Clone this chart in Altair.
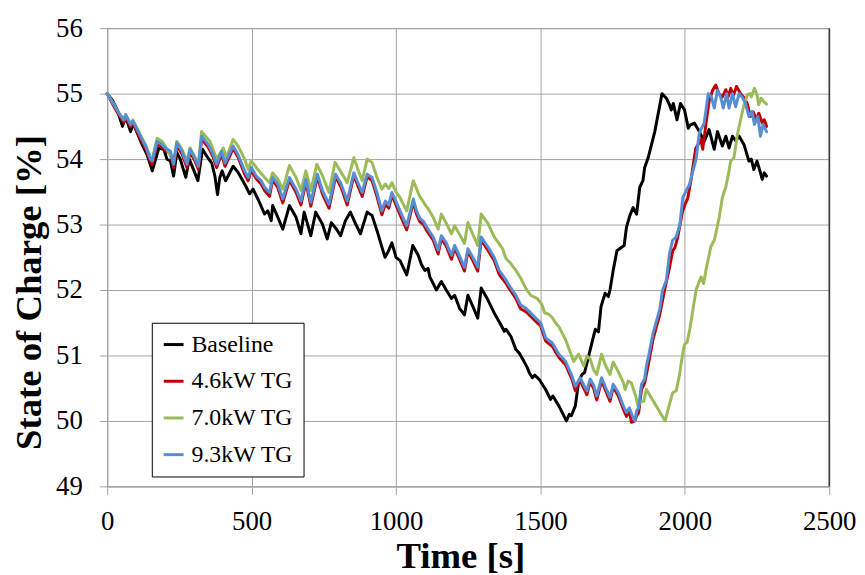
import altair as alt
import pandas as pd

series_names = ["Baseline", "4.6kW TG", "7.0kW TG", "9.3kW TG"]
series_colors = ["#000000", "#c00000", "#9bbb59", "#558ed5"]
x_ticks = [0, 500, 1000, 1500, 2000, 2500]
y_ticks = [49, 50, 51, 52, 53, 54, 55, 56]

base_t = [0, 18, 35, 53, 64, 81, 90, 121, 138, 156,
          179, 196, 207, 219, 230, 241, 253, 272, 284, 299,
          314, 330, 344, 362, 373, 382, 390, 398, 410, 436,
          453, 482, 493, 505, 522, 545, 556, 568, 573, 591,
          608, 631, 654, 671, 682, 705, 722, 745, 762, 776,
          797, 808, 825, 842, 860, 877, 900, 917, 934, 951,
          962, 972, 986, 1000, 1014, 1037, 1043, 1058, 1077, 1089,
          1100, 1111, 1117, 1140, 1157, 1174, 1192, 1203, 1220, 1237,
          1249, 1266, 1283, 1295, 1318, 1340, 1363, 1375, 1381, 1398,
          1415, 1426, 1443, 1455, 1461, 1472, 1480, 1495, 1518, 1535,
          1543, 1564, 1590, 1600, 1607, 1621, 1632, 1644, 1653, 1667,
          1678, 1690, 1701, 1710, 1724, 1735, 1741, 1752, 1765, 1780,
          1790, 1798, 1810, 1821, 1833, 1844, 1855, 1861, 1873, 1896,
          1921, 1936, 1947, 1953, 1960, 1973, 1985, 1999, 2012, 2018,
          2033, 2050, 2067, 2084, 2102, 2113, 2130, 2142, 2153, 2165,
          2176, 2188, 2205, 2222, 2230, 2239, 2250, 2262, 2268, 2275,
          2283]
base_soc = [55.00, 54.90, 54.75, 54.50, 54.65, 54.42, 54.55, 54.22, 54.07, 53.82,
            54.17, 54.15, 54.00, 53.97, 53.74, 54.10, 54.00, 53.72, 54.00, 53.84,
            53.67, 54.15, 54.05, 53.94, 53.74, 53.46, 53.72, 53.82, 53.67, 53.89,
            53.80, 53.57, 53.47, 53.54, 53.39, 53.16, 53.21, 53.06, 53.29, 53.11,
            52.93, 53.29, 53.11, 52.86, 53.19, 52.83, 53.19, 53.01, 52.78, 53.03,
            52.91, 52.83, 53.06, 53.19, 53.01, 52.86, 53.19, 53.14, 52.91, 52.66,
            52.50, 52.58, 52.72, 52.50, 52.45, 52.23, 52.35, 52.68, 52.53, 52.38,
            52.30, 52.33, 52.20, 52.00, 52.13, 52.00, 51.87, 51.92, 51.72, 51.62,
            51.92, 51.75, 51.57, 52.03, 51.85, 51.65, 51.47, 51.37, 51.40, 51.29,
            51.09, 51.04, 50.91, 50.81, 50.74, 50.66, 50.70, 50.64, 50.48, 50.33,
            50.38, 50.23, 50.00, 50.10, 50.08, 50.23, 50.59, 50.71, 50.74, 50.99,
            51.19, 51.40, 51.36, 51.75, 51.95, 51.90, 52.00, 52.30, 52.60, 52.65,
            52.68, 52.96, 53.14, 53.26, 53.16, 53.57, 53.67, 53.87, 54.02, 54.42,
            55.00, 54.93, 54.83, 54.75, 54.85, 54.60, 54.85, 54.75, 54.47, 54.52,
            54.55, 54.42, 54.27, 54.45, 54.15, 54.42, 54.20, 54.35, 54.17, 54.35,
            54.28, 54.35, 54.22, 53.97, 54.00, 53.84, 53.97, 53.79, 53.69, 53.79,
            53.74]

red_t = [0, 24, 41, 58, 64, 81, 89, 121, 133, 150,
         156, 173, 190, 201, 219, 230, 241, 259, 276, 287,
         305, 316, 327, 350, 367, 379, 396, 408, 436, 453,
         476, 488, 499, 516, 533, 545, 562, 573, 590, 608,
         631, 654, 671, 688, 705, 728, 745, 768, 791, 810,
         831, 854, 870, 883, 900, 917, 934, 951, 963, 975,
         986, 1000, 1014, 1037, 1060, 1071, 1083, 1095, 1106, 1129,
         1146, 1157, 1174, 1192, 1203, 1220, 1237, 1249, 1266, 1283,
         1295, 1318, 1340, 1357, 1369, 1381, 1395, 1415, 1432, 1450,
         1466, 1484, 1501, 1518, 1541, 1564, 1587, 1609, 1621, 1638,
         1650, 1661, 1672, 1684, 1695, 1712, 1725, 1741, 1752, 1770,
         1787, 1798, 1808, 1815, 1827, 1833, 1840, 1850, 1861, 1870,
         1890, 1913, 1930, 1945, 1958, 1966, 1975, 1992, 2000, 2010,
         2022, 2038, 2050, 2056, 2062, 2075, 2084, 2096, 2107, 2118,
         2130, 2142, 2150, 2159, 2168, 2179, 2193, 2203, 2216, 2227,
         2237, 2248, 2256, 2268, 2275, 2283]
red_soc = [55.00, 54.80, 54.67, 54.56, 54.65, 54.49, 54.55, 54.26, 54.16, 53.95,
           53.92, 54.24, 54.18, 54.13, 54.08, 53.87, 54.21, 54.08, 53.87, 54.11,
           53.96, 53.84, 54.31, 54.18, 54.03, 53.87, 54.08, 53.89, 54.16, 54.03,
           53.77, 53.67, 53.83, 53.70, 53.62, 53.52, 53.43, 53.68, 53.57, 53.33,
           53.68, 53.49, 53.30, 53.65, 53.28, 53.73, 53.47, 53.25, 53.73, 53.57,
           53.30, 53.75, 53.57, 53.43, 53.73, 53.67, 53.43, 53.15, 53.31, 53.25,
           53.45, 53.30, 53.15, 52.92, 53.35, 53.16, 53.04, 53.00, 52.91, 52.76,
           52.55, 52.79, 52.67, 52.47, 52.64, 52.47, 52.29, 52.59, 52.45, 52.29,
           52.77, 52.61, 52.45, 52.24, 52.17, 52.10, 52.00, 51.87, 51.71, 51.67,
           51.60, 51.52, 51.45, 51.22, 51.14, 50.97, 50.86, 50.64, 50.46, 50.62,
           50.50, 50.40, 50.60, 50.50, 50.32, 50.62, 50.47, 50.30, 50.52, 50.38,
           50.18, 50.07, 50.15, 49.98, 50.00, 50.08, 50.12, 50.48, 50.58, 50.78,
           51.25, 51.62, 52.00, 52.30, 52.60, 52.65, 52.80, 53.20, 53.30, 53.40,
           53.70, 54.17, 54.25, 54.30, 54.15, 54.60, 54.88, 55.05, 55.13, 55.00,
           54.95, 55.06, 54.95, 55.08, 54.97, 55.11, 55.00, 54.95, 54.85, 54.65,
           54.72, 54.60, 54.70, 54.55, 54.60, 54.50]

green_t = [0, 24, 41, 58, 64, 81, 89, 121, 133, 150,
           156, 173, 190, 201, 213, 230, 241, 259, 276, 287,
           305, 316, 327, 356, 379, 402, 413, 436, 453, 476,
           488, 499, 522, 545, 562, 573, 590, 608, 631, 654,
           671, 688, 705, 726, 745, 768, 789, 810, 831, 854,
           870, 883, 900, 917, 934, 951, 963, 975, 986, 1000,
           1014, 1037, 1060, 1080, 1100, 1110, 1129, 1146, 1157, 1174,
           1192, 1203, 1220, 1237, 1249, 1266, 1283, 1295, 1318, 1340,
           1355, 1369, 1381, 1398, 1415, 1432, 1449, 1466, 1489, 1505,
           1515, 1529, 1541, 1552, 1564, 1587, 1604, 1615, 1632, 1650,
           1661, 1672, 1684, 1695, 1712, 1725, 1741, 1752, 1770, 1787,
           1793, 1804, 1815, 1830, 1838, 1848, 1858, 1867, 1932, 1947,
           1958, 1970, 1981, 1993, 1999, 2008, 2018, 2039, 2056, 2065,
           2073, 2090, 2102, 2107, 2119, 2130, 2136, 2142, 2153, 2159,
           2170, 2182, 2193, 2205, 2216, 2225, 2230, 2241, 2250, 2256,
           2264, 2273, 2283]
green_soc = [55.00, 54.83, 54.70, 54.60, 54.68, 54.53, 54.60, 54.32, 54.22, 54.02,
             54.00, 54.32, 54.27, 54.20, 54.10, 53.97, 54.27, 54.15, 53.97, 54.17,
             54.02, 53.94, 54.42, 54.27, 54.00, 54.17, 54.02, 54.30, 54.20, 54.00,
             53.84, 53.97, 53.84, 53.72, 53.64, 53.79, 53.70, 53.54, 53.90, 53.72,
             53.52, 53.82, 53.52, 53.92, 53.75, 53.49, 53.95, 53.80, 53.64, 54.02,
             53.82, 53.67, 54.00, 53.95, 53.72, 53.54, 53.62, 53.55, 53.64, 53.50,
             53.41, 53.21, 53.67, 53.45, 53.31, 53.25, 53.11, 52.93, 53.16, 53.02,
             52.86, 52.98, 52.85, 52.71, 53.03, 52.85, 52.68, 53.16, 53.02, 52.81,
             52.72, 52.63, 52.48, 52.40, 52.30, 52.18, 52.03, 51.92, 51.87, 51.78,
             51.65, 51.63, 51.58, 51.50, 51.44, 51.24, 51.04, 50.91, 51.02, 50.84,
             50.99, 50.95, 50.78, 50.71, 51.02, 50.85, 50.71, 50.90, 50.75, 50.59,
             50.48, 50.61, 50.58, 50.38, 50.22, 50.30, 50.30, 50.48, 50.00, 50.26,
             50.43, 50.46, 50.69, 51.04, 51.17, 51.20, 51.42, 52.00, 52.20, 52.10,
             52.30, 52.66, 52.76, 52.86, 53.11, 53.41, 53.50, 53.57, 53.82, 53.97,
             54.02, 54.37, 54.60, 54.83, 54.98, 55.00, 54.95, 55.08, 54.98, 54.83,
             54.93, 54.88, 54.84]

blue_t = [0, 24, 41, 58, 64, 81, 89, 121, 133, 150,
          156, 173, 190, 201, 219, 230, 241, 259, 276, 287,
          305, 316, 327, 350, 367, 379, 396, 408, 436, 453,
          476, 488, 499, 516, 533, 545, 562, 573, 590, 608,
          631, 654, 671, 688, 705, 728, 745, 768, 791, 810,
          831, 854, 870, 883, 900, 917, 934, 951, 963, 975,
          986, 1000, 1014, 1037, 1060, 1071, 1083, 1095, 1106, 1129,
          1146, 1157, 1174, 1192, 1203, 1220, 1237, 1249, 1266, 1283,
          1295, 1318, 1340, 1357, 1369, 1381, 1395, 1415, 1432, 1450,
          1466, 1484, 1501, 1518, 1541, 1564, 1587, 1609, 1621, 1638,
          1650, 1661, 1672, 1684, 1695, 1712, 1725, 1741, 1752, 1770,
          1787, 1798, 1808, 1821, 1827, 1833, 1840, 1850, 1861, 1867,
          1875, 1890, 1913, 1923, 1936, 1947, 1958, 1970, 1983, 1993,
          2005, 2015, 2039, 2050, 2067, 2081, 2092, 2102, 2113, 2124,
          2133, 2145, 2153, 2165, 2176, 2188, 2198, 2210, 2222, 2233,
          2241, 2253, 2262, 2271, 2283]
blue_soc = [55.00, 54.83, 54.70, 54.60, 54.68, 54.53, 54.58, 54.30, 54.20, 54.00,
            53.97, 54.27, 54.22, 54.17, 54.12, 53.92, 54.25, 54.12, 53.92, 54.15,
            54.00, 53.89, 54.35, 54.22, 54.07, 53.92, 54.12, 53.94, 54.20, 54.07,
            53.82, 53.72, 53.87, 53.74, 53.67, 53.57, 53.49, 53.72, 53.62, 53.39,
            53.72, 53.54, 53.36, 53.69, 53.34, 53.77, 53.52, 53.31, 53.77, 53.62,
            53.36, 53.79, 53.62, 53.49, 53.77, 53.72, 53.49, 53.21, 53.36, 53.30,
            53.49, 53.35, 53.21, 52.98, 53.39, 53.21, 53.09, 53.05, 52.96, 52.81,
            52.61, 52.83, 52.72, 52.53, 52.68, 52.52, 52.35, 52.63, 52.50, 52.35,
            52.81, 52.66, 52.50, 52.30, 52.23, 52.15, 52.05, 51.92, 51.77, 51.72,
            51.65, 51.57, 51.50, 51.27, 51.19, 51.02, 50.91, 50.69, 50.53, 50.66,
            50.55, 50.46, 50.64, 50.55, 50.38, 50.66, 50.52, 50.36, 50.56, 50.43,
            50.23, 50.13, 50.20, 50.05, 50.00, 50.15, 50.20, 50.56, 50.64, 50.84,
            51.00, 51.34, 51.70, 52.00, 52.15, 52.56, 52.76, 52.81, 53.00, 53.41,
            53.52, 53.60, 54.00, 54.40, 54.55, 55.00, 54.95, 54.78, 55.05, 54.95,
            54.78, 55.00, 54.78, 55.00, 54.80, 55.00, 54.95, 54.85, 54.65, 54.73,
            54.53, 54.65, 54.35, 54.53, 54.42]

frames = []
for name, ts, vs in zip(series_names,
                        [base_t, red_t, green_t, blue_t],
                        [base_soc, red_soc, green_soc, blue_soc]):
    frames.append(pd.DataFrame({"Time": ts, "SOC": vs, "Series": name}))
df = pd.concat(frames, ignore_index=True)

FONT = "Liberation Serif, Times New Roman, DejaVu Serif, serif"
GRID = "#a3a3a3"

lines = alt.Chart(df).mark_line(strokeWidth=3, strokeJoin="round", strokeCap="round").encode(
    x=alt.X("Time:Q",
            scale=alt.Scale(domain=[0, 2500], nice=False),
            axis=alt.Axis(values=x_ticks, title="Time [s]", format="d",
                          titleX=356, titleY=71, titleBaseline="middle",
                          titleAnchor="middle", labelPadding=14,
                          labelFlush=False, labelOverlap=False)),
    y=alt.Y("SOC:Q",
            scale=alt.Scale(domain=[49, 56], nice=False, zero=False),
            axis=alt.Axis(values=y_ticks, title="State of Charge [%]", format="d",
                          titleX=-78, titleY=266, titleAngle=-90,
                          titleBaseline="middle", titleAlign="center", labelPadding=17,
                          labelFlush=False, labelOverlap=False)),
    color=alt.Color("Series:N",
                    scale=alt.Scale(domain=series_names, range=series_colors),
                    sort=series_names,
                    legend=alt.Legend(title=None, orient="none", legendX=45, legendY=297,
                                      symbolType="stroke", symbolSize=400,
                                      symbolStrokeWidth=3, labelFont=FONT,
                                      labelFontSize=24, labelColor="#000000",
                                      labelOffset=6, rowPadding=13, padding=10,
                                      strokeColor="#000000", fillColor="#ffffff",
                                      cornerRadius=0)),
)

right_edge = alt.Chart(pd.DataFrame({"Time": [2500]})).mark_rule(
    color="#3a3a3a", strokeWidth=1.5).encode(x="Time:Q")

chart = alt.layer(lines, right_edge).properties(
    width=728, height=462,
    autosize=alt.AutoSizeParams(type="none"),
    padding={"left": 100, "top": 18, "right": 28, "bottom": 87},
    background="#ffffff",
).configure_view(
    stroke=GRID, strokeWidth=1
).configure_axis(
    grid=True, gridColor=GRID, gridWidth=1,
    domainColor=GRID, domainWidth=1,
    tickColor=GRID, tickSize=8, tickWidth=1,
    labelFont=FONT, labelFontSize=27, labelColor="#000000",
    titleFont=FONT, titleFontSize=37, titleFontWeight="bold", titleColor="#000000",
)

chart.save("out.html", embed_options={"renderer": "svg", "actions": False})
